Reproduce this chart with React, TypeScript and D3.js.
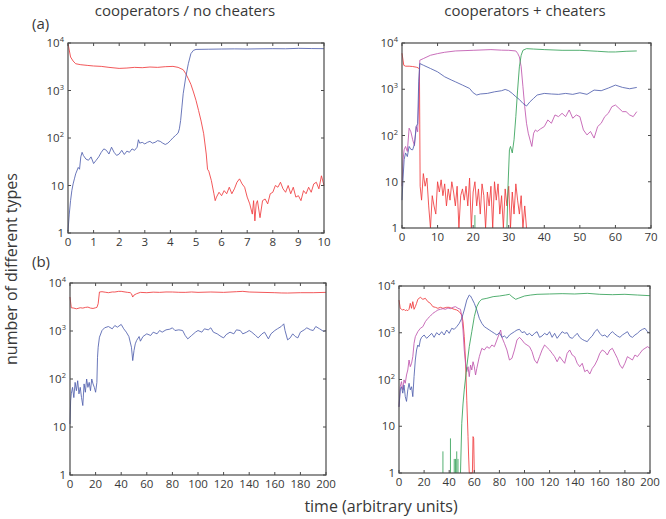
import React from 'react';
import * as d3 from 'd3';

type Pt = [number, number];

// ---------- tick labels ----------
const yTickValues = [1, 10, 100, 1000, 10000];
const xTicksA1 = [0, 1, 2, 3, 4, 5, 6, 7, 8, 9, 10];
const xTicksA2 = [0, 10, 20, 30, 40, 50, 60, 70];
const xTicksB = [0, 20, 40, 60, 80, 100, 120, 140, 160, 180, 200];

const titles = ['cooperators / no cheaters', 'cooperators + cheaters'];
const rowLabels = ['(a)', '(b)'];
const yAxisLabel = 'number of different types';
const xAxisLabel = 'time (arbitrary units)';

// ---------- panel (a) left: cooperators / no cheaters ----------
const aLeftRed: Pt[] = [
  [0, 9700], [0.1, 5070], [0.2, 4170], [0.3, 3660], [0.5, 3490], [0.75, 3380], [1, 3280], [1.3, 3220],
  [1.6, 3070], [2, 2920], [2.3, 2970], [2.6, 3070], [2.9, 3020], [3.2, 3120], [3.5, 3070], [3.8, 3170],
  [4.1, 3220], [4.3, 3070], [4.5, 2740], [4.6, 2260], [4.7, 1770], [4.8, 1350], [4.9, 930], [5.0, 620],
  [5.1, 380], [5.2, 227], [5.3, 123], [5.4, 46], [5.45, 22], [5.5, 20], [5.6, 12.7], [5.7, 6.7], [5.75, 4.8],
  [5.8, 5.7], [5.9, 7.2], [6.0, 6.1], [6.1, 7.8], [6.2, 6.7], [6.3, 9.2], [6.4, 6.7], [6.5, 8.5],
  [6.6, 11.7], [6.7, 13.8], [6.8, 10.8], [6.9, 9.2], [7.0, 5.7], [7.1, 4.1], [7.2, 2.5], [7.25, 4.8],
  [7.3, 1.8], [7.35, 4.1], [7.4, 4.8], [7.5, 2.1], [7.6, 4.8], [7.7, 5.2], [7.8, 4.1], [7.9, 6.7],
  [8.0, 7.2], [8.1, 10], [8.2, 9.2], [8.3, 11.7], [8.4, 8.5], [8.5, 7.2], [8.6, 10], [8.7, 6.7],
  [8.8, 9.2], [8.9, 5.7], [9.0, 6.1], [9.1, 4.8], [9.2, 7.8], [9.3, 6.7], [9.4, 9.2], [9.5, 7.2],
  [9.6, 10.8], [9.7, 11.7], [9.8, 8.5], [9.9, 16], [10, 10],
];
const aLeftBlue: Pt[] = [
  [0, 1.1], [0.05, 2.5], [0.1, 4.8], [0.15, 7.8], [0.2, 10.8], [0.25, 13.8], [0.3, 17.6], [0.4, 24],
  [0.45, 22], [0.5, 40], [0.55, 50], [0.6, 43], [0.7, 36], [0.8, 34], [0.9, 40], [1.0, 29], [1.1, 34],
  [1.2, 40], [1.3, 50], [1.4, 59], [1.5, 55], [1.6, 46], [1.7, 64], [1.8, 50], [1.9, 43], [2.0, 46],
  [2.1, 55], [2.2, 45], [2.3, 53], [2.4, 50], [2.5, 59], [2.6, 55], [2.7, 64], [2.75, 92], [2.8, 78],
  [2.9, 81], [3.0, 75], [3.1, 81], [3.2, 85], [3.3, 78], [3.4, 81], [3.5, 88], [3.6, 85], [3.7, 78],
  [3.8, 73], [3.9, 78], [4.0, 88], [4.1, 101], [4.2, 113], [4.3, 127], [4.35, 156], [4.4, 234],
  [4.45, 447], [4.5, 855], [4.6, 1920], [4.7, 3660], [4.8, 5960], [4.9, 7000], [5.0, 7330], [5.5, 7400],
  [6, 7470], [6.5, 7520], [7, 7470], [7.5, 7550], [8, 7600], [8.5, 7560], [9, 7720], [9.5, 7640], [10, 7600],
];

// ---------- panel (a) right: cooperators + cheaters ----------
const aRightRed: Pt[] = [
  [0, 6000], [0.5, 3300], [1, 3150], [2, 3150], [3, 3100], [4, 3000], [4.6, 2900], [4.9, 2700],
  [5.1, 8], [5.5, 4], [6, 15], [6.5, 8], [7, 12], [7.5, 3], [8, 1], [8.5, 5], [9, 3], [9.5, 2],
  [10, 10], [10.5, 6], [11, 11], [11.5, 5], [12, 9], [12.5, 3], [13, 7], [13.5, 4], [14, 10],
  [14.5, 6], [15, 3], [15.5, 8], [16, 1], [16.5, 5], [17, 7], [17.5, 4], [18, 8], [18.5, 3],
  [19, 12], [19.5, 1], [20, 6], [20.5, 10], [21, 3], [21.5, 7], [22, 2], [22.5, 9], [23, 5],
  [23.5, 1], [24, 6], [24.5, 3], [25, 8], [25.5, 1], [26, 10], [26.5, 4], [27, 9], [27.5, 2],
  [28, 5], [28.5, 1], [29, 7], [29.5, 3], [30, 8], [30.5, 1], [31, 6], [31.5, 2], [32, 9],
  [32.5, 4], [33, 2], [33.5, 5], [34, 1], [34.5, 3], [35, 1],
];
const aRightMagenta: Pt[] = [
  [0, 8], [0.3, 30], [0.6, 49], [1, 58], [1.5, 45], [2, 144], [2.5, 120], [3, 81], [3.5, 60],
  [4, 156], [4.4, 120], [4.7, 585], [5, 4240], [6, 4600], [8, 5430], [10, 5900], [12, 6300],
  [15, 6730], [20, 6950], [25, 7200], [28, 7000], [30, 6950], [32, 6730], [32.5, 6000], [33, 5000],
  [33.5, 3050], [34, 1130], [34.5, 420], [35, 184], [35.5, 112], [36, 80], [36.5, 58], [37, 112],
  [37.5, 132], [38, 122], [39, 140], [40, 156], [41, 217], [42, 184], [43, 278], [44, 256], [45, 302],
  [46, 256], [47, 356], [48, 236], [49, 278], [50, 256], [51, 132], [52, 103], [53, 122], [54, 88],
  [55, 156], [56, 184], [57, 256], [58, 302], [59, 420], [60, 456], [61, 387], [62, 328], [63, 328],
  [64, 278], [65, 256], [66, 328],
];
const aRightBlue: Pt[] = [
  [0, 4], [0.3, 12], [0.6, 30], [1, 42], [1.5, 35], [2, 58], [2.5, 50], [3, 49], [3.5, 65], [4, 156],
  [4.4, 180], [4.7, 1500], [5, 3600], [6, 3310], [8, 2810], [10, 2380], [12, 1860], [14, 1570],
  [15, 1450], [17, 1230], [19, 1040], [20, 840], [21, 750], [22, 790], [24, 813], [26, 880], [28, 930],
  [29, 990], [30, 930], [31, 813], [32, 690], [33, 600], [34, 495], [35, 434], [36, 538], [37, 635],
  [38, 750], [40, 813], [42, 790], [44, 775], [46, 813], [48, 775], [50, 840], [52, 775], [54, 960],
  [56, 930], [58, 1060], [60, 1230], [62, 1095], [64, 1025], [66, 1095],
];
const aRightGreen: Pt[] = [
  [29.5, 1], [29.8, 8], [30.2, 49], [30.5, 58], [31, 42], [31.5, 81], [32, 256], [32.5, 960],
  [33, 3050], [33.5, 5430], [34, 6950], [35, 7550], [37, 7400], [40, 7200], [45, 6950], [50, 6950],
  [55, 6620], [58, 6400], [60, 6400], [63, 6620], [66, 6730],
];
const aRightGreenSpikes: Pt[] = [[20.5, 1.9]];

// ---------- panel (b) left ----------
const bLeftRed: Pt[] = [
  [0, 5100], [1, 3050], [3, 3000], [5, 2900], [8, 3050], [10, 3000], [12, 3100], [14, 3150], [16, 3000],
  [18, 2950], [20, 3050], [21, 3100], [22, 3700], [23, 6490], [25, 6590], [28, 6400], [30, 6280],
  [33, 6500], [35, 6490], [38, 6700], [40, 6700], [43, 6500], [45, 6380], [47, 6300], [48, 5980],
  [49, 5100], [50, 5600], [52, 5980], [55, 6380], [60, 6280], [65, 6450], [70, 6380], [75, 6500],
  [80, 6490], [85, 6400], [90, 6380], [95, 6500], [100, 6380], [110, 6490], [120, 6380], [130, 6590],
  [135, 6700], [140, 6490], [150, 6380], [160, 6280], [165, 6200], [170, 6180], [180, 6280],
  [190, 6280], [200, 6380],
];
const bLeftBlue: Pt[] = [
  [0, 11.5], [0.5, 35], [1, 49], [2, 67], [3, 41], [4, 85], [5, 57], [6, 92], [7, 49], [8, 67], [9, 41],
  [10, 28], [11, 79], [12, 53], [13, 100], [14, 67], [15, 85], [16, 57], [17, 100], [18, 79], [19, 67],
  [20, 53], [21, 85], [21.5, 284], [22, 459], [23, 743], [25, 1024], [27, 1165], [30, 1240], [33, 1110],
  [35, 1300], [37, 1200], [40, 1370], [42, 1110], [44, 946], [46, 767], [48, 459], [49, 242], [50, 391],
  [51, 540], [52, 632], [54, 767], [55, 613], [57, 767], [60, 873], [63, 806], [65, 946], [68, 873],
  [70, 1024], [72, 946], [75, 1057], [78, 1092], [80, 1165], [82, 1024], [85, 1057], [88, 1024],
  [90, 806], [92, 685], [95, 806], [98, 946], [100, 1024], [103, 946], [105, 1110], [108, 1057],
  [110, 1165], [112, 946], [115, 873], [118, 767], [120, 719], [122, 840], [125, 946], [128, 873],
  [130, 1057], [133, 1024], [135, 873], [138, 946], [140, 1024], [142, 946], [145, 806], [147, 719],
  [150, 873], [152, 946], [155, 685], [157, 873], [160, 1024], [162, 1110], [165, 1240], [167, 1410],
  [168, 1024], [170, 653], [172, 719], [174, 873], [176, 767], [178, 719], [180, 946], [183, 1057],
  [185, 1165], [188, 1057], [190, 1024], [192, 1240], [195, 1110], [198, 985], [200, 1024],
];

// ---------- panel (b) right ----------
const bRightRed: Pt[] = [
  [0, 5010], [1, 3330], [2, 3170], [3, 3070], [4, 3170], [5, 2970], [6, 3070], [7, 2970], [8, 3170],
  [9, 4260], [10, 3330], [11, 4620], [12, 3170], [13, 3610], [14, 4260], [15, 5190], [17, 5730],
  [19, 5190], [21, 5450], [23, 4620], [25, 4260], [27, 3610], [29, 3500], [31, 3330], [33, 3500],
  [35, 3330], [38, 3500], [40, 3500], [42, 3330], [44, 3170], [46, 3070], [48, 2830], [50, 2400],
  [51, 1730], [52, 824], [53, 261], [54, 36], [55, 6], [55.5, 2.2], [56, 1], [58.5, 1], [59, 6],
  [59.5, 5.5], [60, 1],
];
const bRightMagenta: Pt[] = [
  [0, 26], [1, 70], [2, 90], [3, 60], [4, 98], [5, 83], [6, 125], [7, 160], [8, 261], [9, 188],
  [10, 222], [11, 308], [12, 594], [13, 824], [15, 1054], [17, 1243], [19, 1349], [21, 1726],
  [23, 2033], [25, 2281], [27, 2602], [29, 2824], [31, 3068], [33, 3170], [35, 3275], [37, 3170],
  [39, 3383], [41, 3275], [43, 3497], [45, 3614], [47, 3330], [49, 3170], [50, 2206], [51, 1145],
  [52, 428], [53, 222], [54, 147], [55, 188], [56, 115], [57, 204], [58, 160], [59, 240], [60, 188],
  [61, 125], [62, 173], [64, 308], [66, 464], [68, 428], [70, 504], [72, 464], [74, 547], [76, 504],
  [78, 700], [80, 972], [81, 1145], [82, 798], [84, 594], [86, 428], [88, 261], [90, 284], [92, 428],
  [94, 700], [96, 798], [98, 700], [100, 594], [102, 547], [104, 504], [106, 394], [108, 261],
  [110, 222], [112, 308], [114, 428], [116, 547], [118, 484], [120, 428], [122, 363], [124, 308],
  [126, 240], [128, 308], [130, 261], [132, 222], [134, 363], [136, 428], [138, 334], [140, 308],
  [142, 222], [144, 188], [146, 222], [148, 147], [150, 160], [152, 131], [154, 173], [156, 204],
  [158, 261], [160, 363], [162, 428], [164, 394], [166, 334], [168, 428], [170, 464], [172, 363],
  [174, 284], [176, 204], [178, 173], [180, 222], [182, 308], [184, 284], [186, 261], [188, 334],
  [190, 308], [192, 363], [194, 428], [196, 464], [198, 504], [200, 464],
];
const bRightBlue: Pt[] = [
  [0, 26], [1, 60], [2, 70], [3, 51], [4, 76], [5, 43], [6, 34], [7, 60], [8, 83], [9, 60], [10, 70],
  [11, 43], [12, 115], [13, 261], [14, 428], [15, 547], [16, 504], [17, 700], [18, 798], [20, 895],
  [22, 760], [24, 853], [26, 972], [28, 798], [30, 1005], [32, 895], [34, 1054], [36, 895], [38, 1145],
  [40, 972], [42, 1243], [44, 1183], [46, 1349], [48, 1589], [50, 2033], [52, 3068], [54, 5010],
  [56, 6410], [57, 6110], [58, 5450], [60, 4260], [62, 3068], [64, 2033], [66, 1589], [68, 1349],
  [70, 1243], [72, 1145], [74, 1054], [76, 972], [78, 895], [80, 1005], [82, 798], [84, 853], [86, 760],
  [88, 895], [90, 972], [92, 1054], [94, 1145], [96, 1183], [98, 1005], [100, 1054], [102, 895],
  [104, 972], [106, 853], [108, 972], [110, 1054], [112, 798], [114, 853], [116, 972], [118, 895],
  [120, 1054], [122, 798], [124, 972], [126, 760], [128, 895], [130, 1054], [132, 972], [134, 1005],
  [136, 798], [138, 760], [140, 853], [142, 972], [144, 798], [146, 722], [148, 677], [150, 645],
  [152, 760], [154, 853], [156, 1054], [158, 1183], [160, 972], [162, 853], [164, 895], [166, 798],
  [168, 940], [170, 1054], [172, 940], [174, 853], [176, 798], [178, 895], [180, 972], [182, 1054],
  [184, 853], [186, 798], [188, 895], [190, 972], [192, 1097], [194, 1183], [196, 1243], [198, 1054],
  [200, 972],
];
const bRightGreen: Pt[] = [
  [49, 1], [50, 11.5], [51, 30], [52, 60], [54, 188], [56, 504], [58, 1054], [60, 2206], [62, 3614],
  [64, 4620], [66, 5190], [70, 5450], [75, 5920], [80, 6110], [85, 6410], [88, 6640], [90, 5920],
  [93, 5190], [95, 5450], [100, 6110], [105, 6410], [110, 6640], [120, 6750], [130, 6860], [140, 6750],
  [150, 6970], [160, 6640], [170, 6520], [180, 6640], [190, 6410], [200, 6210],
];
const bRightGreenSpikes: Pt[] = [[35, 2.9], [41, 5.5], [44, 2], [45, 2], [46, 2.9], [47, 2]];

// ---------- styles ----------
const RED = '#f03a3c';
const BLUE = '#5060ae';
const MAGENTA = '#bf55ae';
const GREEN = '#34a057';
const FRAME = '#4a4a4a';
const TEXT = '#383838';
const FONT = '"Open Sans", "DejaVu Sans", sans-serif';

type Series = { data: Pt[]; color: string };

type PanelProps = {
  box: [number, number, number, number];
  xDomain: [number, number];
  xTicks: number[];
  series: Series[];
  spikes?: Pt[];
  spikeColor?: string;
};

function YLabel({ v, x, y }: { v: number; x: number; y: number }) {
  const exp = Math.round(Math.log10(v));
  if (exp <= 1) {
    return (
      <text x={x} y={y + 4} textAnchor="end" fontSize={11.5} fill={TEXT} fontFamily={FONT}>
        {exp === 0 ? '1' : '10'}
      </text>
    );
  }
  return (
    <text x={x} y={y + 4} textAnchor="end" fontSize={11.5} fill={TEXT} fontFamily={FONT}>
      10
      <tspan dy={-5} fontSize={7.5}>{exp}</tspan>
    </text>
  );
}

function Panel({ box, xDomain, xTicks, series, spikes, spikeColor }: PanelProps) {
  const [x0, x1, y0, y1] = box;
  const x = d3.scaleLinear().domain(xDomain).range([x0, x1]);
  const y = d3.scaleLog().domain([1, 1e4]).range([y1, y0]).clamp(true);
  const line = d3
    .line<Pt>()
    .x((d) => x(d[0]))
    .y((d) => y(Math.max(1, d[1])));
  const tl = 3;
  return (
    <g>
      {series.map((s, i) => (
        <path key={i} d={line(s.data) || ''} fill="none" stroke={s.color} strokeWidth={0.85} strokeLinejoin="round" />
      ))}
      {spikes &&
        spikes.map((s, i) => (
          <line key={'s' + i} x1={x(s[0])} x2={x(s[0])} y1={y1} y2={y(s[1])} stroke={spikeColor} strokeWidth={0.85} />
        ))}
      <rect x={x0} y={y0} width={x1 - x0} height={y1 - y0} fill="none" stroke={FRAME} strokeWidth={1.2} />
      {xTicks.map((t) => (
        <g key={'x' + t}>
          <line x1={x(t)} x2={x(t)} y1={y1} y2={y1 - tl} stroke={FRAME} strokeWidth={1} />
          <line x1={x(t)} x2={x(t)} y1={y0} y2={y0 + tl} stroke={FRAME} strokeWidth={1} />
          <text x={x(t)} y={y1 + 12.5} textAnchor="middle" fontSize={11.5} fill={TEXT} fontFamily={FONT}>
            {t}
          </text>
        </g>
      ))}
      {yTickValues.map((t) => (
        <g key={'y' + t}>
          <line x1={x0} x2={x0 + tl} y1={y(t)} y2={y(t)} stroke={FRAME} strokeWidth={1} />
          <line x1={x1} x2={x1 - tl} y1={y(t)} y2={y(t)} stroke={FRAME} strokeWidth={1} />
          <YLabel v={t} x={x0 - 4} y={y(t)} />
        </g>
      ))}
    </g>
  );
}

export default function App() {
  return (
    <svg
      width={666}
      height={519}
      viewBox="0 0 666 519"
      style={{ position: 'absolute', left: 0, top: 0, background: '#ffffff' }}
    >
      <rect x={0} y={0} width={666} height={519} fill="#ffffff" />
      <text x={185} y={16} textAnchor="middle" fontSize={15} fill={TEXT} fontFamily={FONT}>
        {titles[0]}
      </text>
      <text x={525} y={16} textAnchor="middle" fontSize={15} fill={TEXT} fontFamily={FONT}>
        {titles[1]}
      </text>
      <text x={32} y={29} fontSize={15} fill={TEXT} fontFamily={FONT}>
        {rowLabels[0]}
      </text>
      <text x={32} y={267} fontSize={15} fill={TEXT} fontFamily={FONT}>
        {rowLabels[1]}
      </text>
      <text
        transform="translate(17,269) rotate(-90)"
        textAnchor="middle"
        fontSize={16}
        fill={TEXT}
        fontFamily={FONT}
      >
        {yAxisLabel}
      </text>
      <text x={381} y={512} textAnchor="middle" fontSize={16} fill={TEXT} fontFamily={FONT}>
        {xAxisLabel}
      </text>

      <Panel
        box={[68, 324, 43, 233]}
        xDomain={[0, 10]}
        xTicks={xTicksA1}
        series={[
          { data: aLeftRed, color: RED },
          { data: aLeftBlue, color: BLUE },
        ]}
      />
      <Panel
        box={[402, 651, 43, 228]}
        xDomain={[0, 70]}
        xTicks={xTicksA2}
        series={[
          { data: aRightRed, color: RED },
          { data: aRightMagenta, color: MAGENTA },
          { data: aRightBlue, color: BLUE },
          { data: aRightGreen, color: GREEN },
        ]}
        spikes={aRightGreenSpikes}
        spikeColor={GREEN}
      />
      <Panel
        box={[70, 326, 283, 475]}
        xDomain={[0, 200]}
        xTicks={xTicksB}
        series={[
          { data: bLeftRed, color: RED },
          { data: bLeftBlue, color: BLUE },
        ]}
      />
      <Panel
        box={[399, 650, 286, 473]}
        xDomain={[0, 200]}
        xTicks={xTicksB}
        series={[
          { data: bRightRed, color: RED },
          { data: bRightMagenta, color: MAGENTA },
          { data: bRightBlue, color: BLUE },
          { data: bRightGreen, color: GREEN },
        ]}
        spikes={bRightGreenSpikes}
        spikeColor={GREEN}
      />
    </svg>
  );
}
